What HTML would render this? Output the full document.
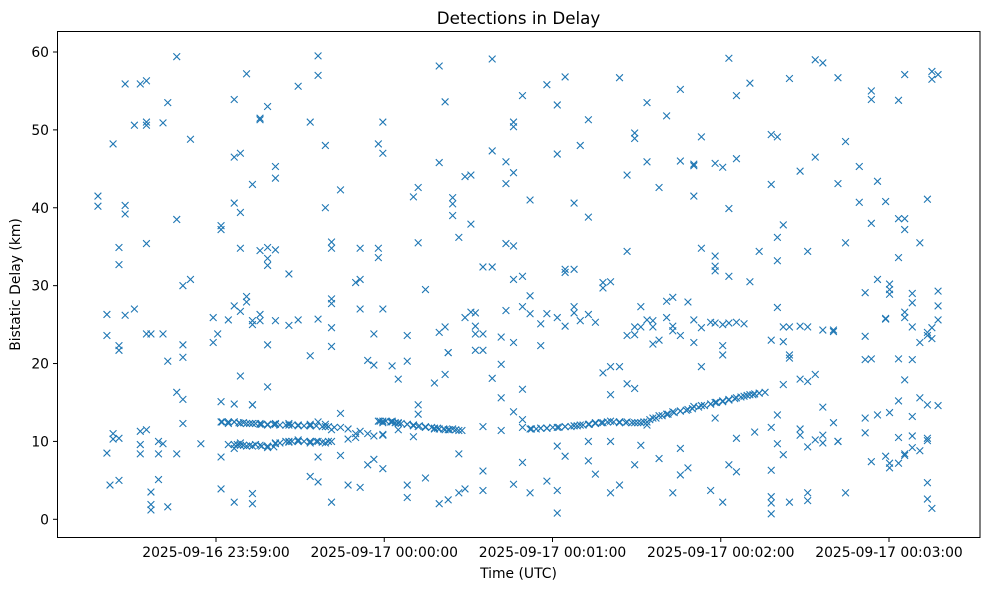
<!DOCTYPE html>
<html><head><meta charset="utf-8"><style>
body{margin:0;background:#fff;}
svg text{font-family:"DejaVu Sans","Liberation Sans",sans-serif;fill:#000;}
</style></head><body>
<svg id="chart" width="989" height="590" xmlns="http://www.w3.org/2000/svg">
<rect x="0" y="0" width="989" height="590" fill="#fff"/>
<text x="518.5" y="24" font-size="16.7" text-anchor="middle">Detections in Delay</text>
<text x="518.5" y="578" font-size="13.9" text-anchor="middle">Time (UTC)</text>
<text transform="translate(20,284.5) rotate(-90)" font-size="13.9" text-anchor="middle">Bistatic Delay (km)</text>
<g id="marks"></g>
<g id="axes"></g>
<rect x="57.5" y="31.5" width="922.5" height="506" fill="none" stroke="#000" stroke-width="1"/>
</svg>
<script>
// seconds relative to 2025-09-16 23:59:00 UTC
const detTimes = [-42.1,-38.9,-37.8,-36.7,-34.6,-32.4,-29.1,-27.0,-24.8,-23.2,-20.5,-18.9,-17.2,-14.0,-11.8,-9.1,-5.4,-1.0,0.6,1.8,4.4,6.5,8.7,10.9,13.0,15.7,18.4,21.2,26.0,29.3,33.6,36.4,39.0,41.2,44.4,47.1,49.8,51.4,54.1,56.3,57.9,59.5,62.8,65.0,68.2,70.4,72.1,74.7,77.9,79.6,81.7,82.8,84.4,86.6,88.8,90.9,92.5,95.2,98.5,101.7,103.4,106.1,109.3,112.0,115.8,118.0,121.7,124.5,127.7,129.9,132.8,135.3,138.0,140.7,143.9,146.6,149.3,151.5,153.7,155.8,158.0,160.7,162.9,165.6,168.3,170.4,173.1,176.4,178.0,180.7,182.9,185.6,188.3,190.4,192.1,193.7,198.0,200.2,202.3,204.5,208.3,211.0,213.7,216.4,220.2,221.8,224.5,229.4,231.5,233.7,235.9,238.8,240.2,243.4,245.6,248.3,251.0,253.7,255.3,257.5];
const detDelays = [
[41.5,40.2],[8.5,23.6,26.3],[4.4],[48.2,11,10.3],[32.7,21.7,22.3,34.9,10.4,5.0],[55.9,40.3,39.2,26.2],[27,50.6],[8.4,11.3,55.9,9.6],[56.3,51,50.6,35.4,23.8,11.5],[23.8,3.5,1.9,1.2],[5.1,10,8.4],[50.9,23.8,9.7],[1.6,20.3,53.5],[59.4,38.5,16.3,8.4],[22.4,20.8,30,15.4,12.3],[30.8,48.8],[9.7],[25.9,22.7],[23.8],[37.7,37.2,8,3.9,15.1,12.5],
[12.5,12.3,25.6,9.6],[53.9,46.5,40.6,27.4,14.8,9.6,9.1,2.2,12.5],[47,39.4,34.8,18.4,12.3,9.8,26.7,9.5],[28.6,27.9,57.2,12.3,9.4],[43,25.5,25,14.7,14.7,9.4,3.3,2.0,12.3],[51.5,51.3,34.5,26.3,25.5,12.3,9.5,12.2],[53,34.9,33.5,32.6,22.4,17,12.1,9.2],[34.6,25.5,43.8,45.3,12.3,9.7,12.2,9.8],[31.5,24.9,12.3,9.9,12.1,10],[55.6,25.6,12,10.2,12.1,10],[21,51,12.2,9.8,5.5,12.0,10],[25.7,57,59.5,12.5,10,8,4.8],[48,40,12.2,9.8,11.9],[35.6,34.8,28.3,27.7,24.6,22.2,11.5,2.2,10],[42.3,13.6,8.2,11.8],[4.4,11.6,10.3],[30.4,11,10.5],[30.8,27,34.8,11.3,4.1],[20.4,11,7],[7.7,23.8,19.8,10.7],[34.8,33.6,48.2,12.6],
[51,47,27,12.4,10.8,6.5,10.9,12.6],[12.6,19.7,12.5],[12.3,18,11.5,12.4],[23.6,20.3,4.4,2.8,12.2],[41.4,10.6,12,12.1],[42.6,35.5,13.5,14.7,11.9],[29.5,5.3,11.8],[17.5,11.6,11.7],[45.8,58.2,24,2.0,11.6],[53.6,24.7,18.6,11.5],[21.4,21.4,2.5,11.5],[39,41.3,40.5,11.6],[36.2,8.4,3.4,11.4],[44,25.9,3.9],[37.9,26.6,44.2],[26.5,24.8,23.8,21.7],[32.4,21.7,11.9,6.2,3.7,23.8],[59.1,47.3,32.4,18.1],[19.9,15.6,11.4,23.4],[35.4,43.1,45.9,26.8],[51,50.4,35.1,30.8,22.7,13.8,4.5,44.5],[54.4,31.2,27.3,16.7,12.8,11.8,7.3],[41,28.7,26.4,11.6,3.4],[22.3,25.1,11.7],[55.8,26.4,11.7,4.9,11.7],[53.2,46.9,25.9,11.8,9.4,3.7,0.8],[56.8,32.1,31.7,24.8,8.1,11.9],[32.1,40.6,27.3,26.5,12],[48,25.5,12.1],[51.3,38.8,26.3,12.2,7.5,10],[25.3,5.8,12.4,12.3],[29.7,30.4,18.8,12.4],[30.5,19.6,16,12.6,10,3.4],[19.6,12.4,4.4,56.7,12.5],[44.2,34.4,17.4,23.6,12.5],[49.6,48.9,24.7,23.7,16.8,7,12.4],[24.7,27.3,9.5,12.4],[45.9,53.5,25.6,12.1,12.5],[24.7,25.5,22.5,13],[42.6,23,7.8,13.3],[51.8,25.9,28,13.5],[24.2,28.5,24.8,3.4,13.8],[46,55.2,23.6,13.9,9.1,5.7],[6.6,27.9,14.1],[45.4,41.5,45.6,25.6,22.7,14.5],[34.8,49.1,24.6,19.6,14.6],[25.3,3.7,14.8],[45.7,33.8,32.5,31.9,25.2,13,15],[45.2,25,22.3,21.1,2.2,15.2],[59.2,39.9,31.2,25.2,7,15.4],[54.4,46.3,25.3,10.4,6.1,15.6],[25.1,15.8],[56,30.5,16],[16.1,11.2],[34.4,16.2],
[49.4,43,23,11.8,6.3,2.9,2.1,0.7],[49.1,36.2,33.2,27.2,9.7,13.4],[37.8,22.8,24.7,17.3,8.3],[56.6,24.7,21.1,20.7,2.2],[44.7,24.8,10.8,18,11.6],[17.7,34.4,24.7,9.3,3.4,2.4],[59,46.5,18.6,10.2],[58.6,24.3,14.4,9.8,10.8],[24.3,24.1,12.4],[43.1,56.7,10,10],[35.5,48.5,3.4],[45.3,40.7],[29.1,23.5,20.5,13,11.1],[53.9,55,38,20.6,7.4],[43.4,30.8,13.4],[40.8,25.8,25.7,8.1],[29.5,28.9,30.2,7.2,13.7,6.6],[53.8,33.6,38.6,20.6,15.2,10.5,7.2],[57.1,38.6,37.2,26.6,25.9,17.9,8.2,8.4],[29,27.8,24.7,20.5,13.2,10.7,9.2],[35.5,22.7,15.6,8.8],[41.1,14.7,4.7,23.6,24,10.4,2.6,10.1],[57.5,56.5,23.2,24.6,1.4],[57.1,29.3,27.4,25.6,14.6]];
// dense track detections
const trackTimes = [2.2,4.4,6.5,8.2,9.8,12.0,14.1,16.3,18.4,20.6,22.8,24.9,27.1,29.3,31.4,33.6,35.8,37.9,40.1,42.2,58.5,60.6,62.3,63.9,66.0,68.2,70.4,72.5,74.7,76.9,79.0,81.2,83.3,85.5,87.7,112.5,114.2,115.8,118.0,120.1,122.3,124.5,126.6,128.8,130.9,133.1,135.3,137.4,139.6,141.8,143.9,146.1,148.3,150.4,152.6,154.7,156.9,159.1,161.2,163.4,165.6,167.7,169.9,172.1,174.2,176.4,178.5,180.7,182.9,185.0,187.2,189.4,191.5,193.7,195.8];
const trackDelays = [12.5,12.5,12.5,12.4,12.4,12.3,12.3,12.2,12.2,12.2,12.1,12.1,12.1,12.1,12.0,12.0,12.0,11.9,11.9,11.8,12.6,12.6,12.5,12.4,12.3,12.2,12.1,12.0,11.9,11.8,11.7,11.6,11.5,11.5,11.4,11.6,11.6,11.7,11.7,11.8,11.8,11.9,11.9,12.0,12.1,12.2,12.3,12.4,12.5,12.5,12.5,12.4,12.4,12.4,12.5,12.8,13.0,13.3,13.5,13.7,13.9,14.0,14.2,14.4,14.6,14.8,15.0,15.1,15.3,15.5,15.7,15.9,16.0,16.2,16.3];
const track2Times = [7.6,9.8,12.0,14.1,16.3,18.4,20.6,22.8,24.9,27.1,29.3,31.4,33.6,35.8,37.9,40.1];
const track2Delays = [9.6,9.5,9.5,9.6,9.4,9.4,9.3,9.8,10,10,10,10,10,10,9.9,10];
const yTicks = [0,10,20,30,40,50,60];
const xTickSecs = [0,60,120,180,240];
const xTickLabels = ["2025-09-16 23:59:00","2025-09-17 00:00:00","2025-09-17 00:01:00","2025-09-17 00:02:00","2025-09-17 00:03:00"];

const NS="http://www.w3.org/2000/svg";
function xs(t){return 216+t*(673/240);}
function ys(d){return 519.3-d*(467.3/60);}
const marks=document.getElementById('marks');
function mark(t,d){
  const x=xs(t),y=ys(d),r=3.4;
  const p=document.createElementNS(NS,'path');
  p.setAttribute('d',`M${x-r},${y-r}L${x+r},${y+r}M${x-r},${y+r}L${x+r},${y-r}`);
  p.setAttribute('stroke','#1f77b4');p.setAttribute('stroke-width','1.1');p.setAttribute('fill','none');
  
  
  marks.appendChild(p);
}
detTimes.forEach((t,i)=>(detDelays[i]||[]).forEach(d=>mark(t,d)));
trackTimes.forEach((t,i)=>mark(t,trackDelays[i]));
track2Times.forEach((t,i)=>mark(t,track2Delays[i]));
const axes=document.getElementById('axes');
yTicks.forEach(v=>{
  const y=ys(v);
  const l=document.createElementNS(NS,'line');
  l.setAttribute('x1',53);l.setAttribute('x2',57.5);l.setAttribute('y1',y);l.setAttribute('y2',y);l.setAttribute('stroke','#000');
  
  
  axes.appendChild(l);
  const tx=document.createElementNS(NS,'text');
  tx.setAttribute('x',49);tx.setAttribute('y',y+5);tx.setAttribute('font-size','13.9');tx.setAttribute('text-anchor','end');
  tx.textContent=v;
  
  
  axes.appendChild(tx);
});
xTickSecs.forEach((s,i)=>{
  const x=xs(s);
  const l=document.createElementNS(NS,'line');
  l.setAttribute('x1',x);l.setAttribute('x2',x);l.setAttribute('y1',537.5);l.setAttribute('y2',542);l.setAttribute('stroke','#000');
  
  
  axes.appendChild(l);
  const tx=document.createElementNS(NS,'text');
  tx.setAttribute('x',x);tx.setAttribute('y',557);tx.setAttribute('font-size','13.9');tx.setAttribute('text-anchor','middle');
  tx.textContent=xTickLabels[i];
  
  
  axes.appendChild(tx);
});
</script>
</body></html>
